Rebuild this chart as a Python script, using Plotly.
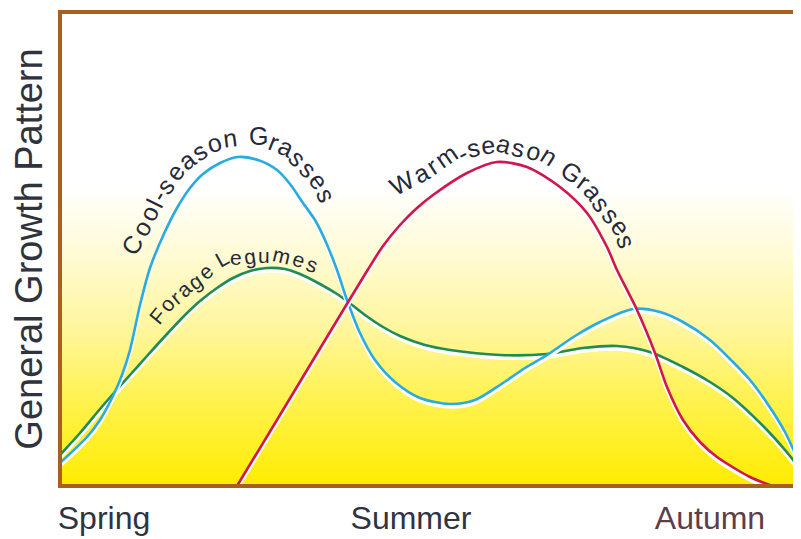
import math
import plotly.graph_objects as go

# ---------------- data (arbitrary growth units) ----------------
season_x_cool = [0, 27, 40, 53, 62, 70, 80, 90, 103, 117, 130, 143, 160, 178, 198, 217, 230, 243, 255, 265,
                 277, 287, 300, 315, 335, 360, 390, 415, 440, 465, 487, 515, 540, 573, 600, 623, 650, 673,
                 690, 707, 725, 741]
growth_cool = [23, 49, 66, 90, 111, 136, 181, 218, 250, 278, 298, 312, 323, 329, 326, 316, 302, 283, 266, 246,
               216, 186, 153, 126, 104, 88, 82, 86, 101, 118, 131, 150, 164, 177, 174, 164, 146, 124,
               106, 83, 54, 19]

season_x_legume = [0, 20, 40, 53, 70, 87, 107, 125, 140, 157, 173, 190, 207, 225, 240, 260, 277, 287, 305,
                   323, 340, 365, 390, 440, 487, 523, 557, 590, 623, 650, 673, 707, 725, 741]
growth_legume = [31, 53, 77, 92, 111, 130, 152, 171, 185, 198, 208, 215, 218, 217, 212, 202, 192, 185, 171,
                 159, 150, 141, 136, 131, 132, 138, 140, 134, 119, 104, 88, 56, 36, 16]

season_x_warm = [177, 223, 273, 307, 323, 340, 357, 373, 407, 437, 467, 500, 527, 547, 557, 577, 595, 607,
                 623, 640, 657, 690, 710]
growth_warm = [0, 76, 159, 215, 240, 261, 278, 291, 313, 324, 319, 299, 273, 239, 216, 176, 133, 99,
               66, 44, 29, 9, 1]

season_ticks = [44, 351, 650]
season_labels = ["Spring", "Summer", "<span style='color:#5e3c48'>Autumn</span>"]

X_MAX, Y_MAX = 741, 474
# page body has an 8px margin; the figure is sized so the plot lands at 60..801 x 12..486 on screen
PAGE_OFF = 8
PLOT_L, PLOT_B = 60, 486  # screen pixels

fig = go.Figure()

# background gradient (white -> yellow)
rows = list(range(0, Y_MAX + 1, 6))
fig.add_trace(go.Heatmap(
    x=[0, X_MAX], y=rows, z=[[r / Y_MAX, r / Y_MAX] for r in rows],
    zmin=0, zmax=1, zsmooth="best", showscale=False, hoverinfo="skip",
    colorscale=[[0, "#ffec00"], [0.18, "#fff24e"], [0.33, "#fff69c"], [0.5, "#fffbd8"],
                [0.63, "#ffffff"], [1, "#ffffff"]],
))

SHADOW = 3
SMOOTH = 0.8
series = [
    (season_x_legume, growth_legume, "#1f8c57"),
    (season_x_cool, growth_cool, "#29aae2"),
    (season_x_warm, growth_warm, "#d0164e"),
]
for xs, ys, col in series:
    fig.add_trace(go.Scatter(x=xs, y=[v - SHADOW for v in ys], mode="lines",
                             line=dict(color="white", width=3.5, shape="spline", smoothing=SMOOTH),
                             hoverinfo="skip", showlegend=False))
    fig.add_trace(go.Scatter(x=xs, y=ys, mode="lines",
                             line=dict(color=col, width=2.6, shape="spline", smoothing=SMOOTH),
                             hoverinfo="skip", showlegend=False))

# ---------------- curved labels ----------------
W = {'C': .722, 'o': .556, 'l': .222, '-': .333, 's': .5, 'e': .556, 'a': .556, 'n': .556, ' ': .278,
     'G': .778, 'r': .333, 'W': .944, 'm': .833, 'F': .611, 'g': .556, 'L': .556, 'u': .556}


def curved_label(text, path, size, color):
    segs = []
    total = 0.0
    for (x0, y0), (x1, y1) in zip(path[:-1], path[1:]):
        d = math.hypot(x1 - x0, y1 - y0)
        segs.append((x0, y0, x1, y1, total, d))
        total += d
    widths = [W.get(c, .556) * size for c in text]
    centers = []
    acc = 0
    for w in widths:
        centers.append(acc + w / 2)
        acc += w
    c0, c1 = centers[0], centers[-1]
    out = []
    for ch, c in zip(text, centers):
        if ch == ' ':
            continue
        s = (c - c0) / (c1 - c0) * total
        for x0, y0, x1, y1, start, d in segs:
            if s <= start + d + 1e-9:
                t = (s - start) / d if d else 0
                px, py = x0 + t * (x1 - x0), y0 + t * (y1 - y0)
                ang = math.degrees(math.atan2(y1 - y0, x1 - x0))
                break
        out.append(dict(x=px - PLOT_L, y=PLOT_B - py, xref="x", yref="y", text=ch, showarrow=False,
                        textangle=ang, xanchor="center", yanchor="middle",
                        font=dict(family="Liberation Sans, Arial, sans-serif", size=size, color=color)))
    return out


lab_col = "#262a38"
annots = []
annots += curved_label("Cool-season Grasses",
                       [(132, 245), (142, 228), (149, 213), (155, 201), (161, 191), (167, 184), (175, 172),
                        (185, 162), (198, 152), (212, 143), (228, 138), (244, 136), (260, 136), (275, 142),
                        (288, 148), (300, 161), (313, 173), (322, 185), (326, 195)], 25, lab_col)
annots += curved_label("Warm-season Grasses",
                       [(402, 183), (423, 172), (435, 164), (448, 155), (462, 153), (472, 148), (486, 145),
                        (502, 143), (516, 147), (530, 150), (547, 155), (558, 162), (570, 171), (585, 182),
                        (594, 193), (603, 206), (613, 217), (622, 228), (626, 241)], 25, lab_col)
annots += curved_label("Forage Legumes",
                       [(157, 316), (167, 304), (177, 296), (186, 287), (198, 279), (208, 270), (216, 262),
                        (225, 257), (238, 257), (250, 257), (263, 255), (280, 255), (297, 259), (312, 264)],
                       21, lab_col)

FIG_W, FIG_H = 801 - PAGE_OFF, 539 - PAGE_OFF
fig.update_layout(
    width=FIG_W, height=FIG_H,
    margin=dict(l=PLOT_L - PAGE_OFF, r=0, t=12 - PAGE_OFF, b=FIG_H - (PLOT_B - PAGE_OFF), pad=0),
    paper_bgcolor="white", plot_bgcolor="white",
    showlegend=False,
    annotations=annots,
    xaxis=dict(range=[0, X_MAX], showgrid=False, zeroline=False, showline=False, ticks="",
               automargin=False,
               tickvals=season_ticks, ticktext=season_labels, ticklabelstandoff=10,
               tickfont=dict(family="Liberation Sans, Arial, sans-serif", size=32, color="#2e3442")),
    yaxis=dict(range=[0, Y_MAX], showgrid=False, zeroline=False, showline=False, showticklabels=False,
               ticks="", automargin=False,
               title=dict(text="General Growth Pattern", standoff=10,
                          font=dict(family="Liberation Sans, Arial, sans-serif", size=38, color="#30333d"))),
    shapes=[dict(type="rect", xref="paper", yref="paper", x0=0, x1=1.05, y0=0, y1=1,
                 line=dict(color="#a9601f", width=4), layer="above")],
)

fig.write_html("out.html")
